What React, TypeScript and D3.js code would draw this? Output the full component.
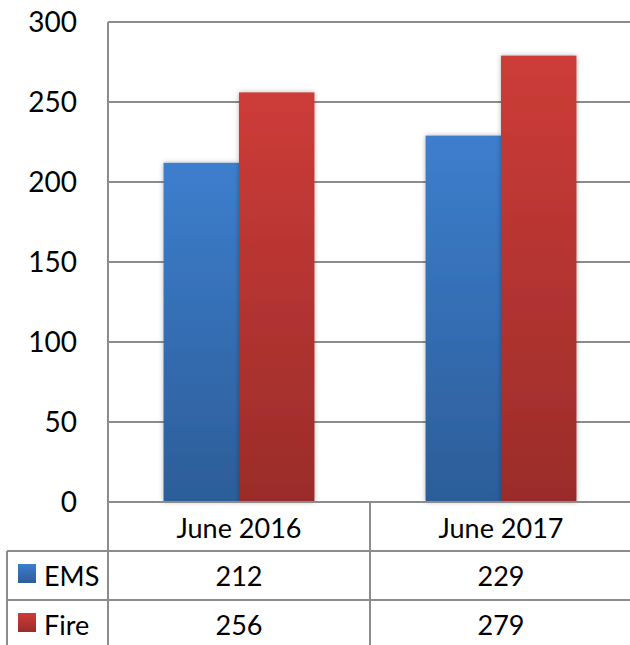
import { useEffect, useRef } from "react";
import * as d3 from "d3";

const categories = ["June 2016", "June 2017"];
const seriesNames = ["EMS", "Fire"];
const emsValues = [212, 229];
const fireValues = [256, 279];
const yTicks = [0, 50, 100, 150, 200, 250, 300];

const W = 630;
const H = 645;
const FONT = "Lato, 'Open Sans', sans-serif";
const GRID = "#8c8c8c";

export default function App() {
  const ref = useRef<SVGSVGElement>(null);

  useEffect(() => {
    const svg = d3.select(ref.current);
    svg.selectAll("*").remove();

    const left = 108, right = 632, top = 22, bottom = 502;
    const rowH = 49;
    const series = [emsValues, fireValues];
    const colors = [
      ["#3d7ecd", "#2c5d98"],
      ["#cd3c38", "#9a2c2a"],
    ];

    const defs = svg.append("defs");
    colors.forEach((c, i) => {
      const g = defs.append("linearGradient").attr("id", "grad" + i)
        .attr("x1", 0).attr("y1", 0).attr("x2", 0).attr("y2", 1);
      g.append("stop").attr("offset", "0%").attr("stop-color", c[0]);
      g.append("stop").attr("offset", "100%").attr("stop-color", c[1]);
    });
    const f = defs.append("filter").attr("id", "shadow")
      .attr("x", "-20%").attr("y", "-20%").attr("width", "140%").attr("height", "140%");
    f.append("feDropShadow").attr("dx", 0).attr("dy", 0)
      .attr("stdDeviation", 2.5).attr("flood-color", "#000").attr("flood-opacity", 0.3);

    const y = d3.scaleLinear().domain([0, 300]).range([bottom, top]);
    const x0 = d3.scaleBand().domain(categories).range([left, right])
      .paddingInner(0.424).paddingOuter(0.212);
    const x1 = d3.scaleBand().domain(seriesNames).range([0, x0.bandwidth()]);
    const step = x0.step();

    // gridlines
    svg.append("g").selectAll("line").data(yTicks.filter(t => t > 0)).join("line")
      .attr("x1", left).attr("x2", W)
      .attr("y1", d => y(d)).attr("y2", d => y(d))
      .attr("stroke", GRID).attr("stroke-width", 2);

    // y labels
    svg.append("g").selectAll("text").data(yTicks).join("text")
      .attr("x", 77).attr("y", d => y(d)).attr("dy", "0.36em")
      .attr("text-anchor", "end")
      .style("font-family", FONT).style("font-size", "28px").attr("fill", "#000")
      .text(d => d);

    // bars
    categories.forEach((cat, ci) => {
      const g = svg.append("g").attr("transform", `translate(${x0(cat)},0)`);
      seriesNames.forEach((s, si) => {
        g.append("rect")
          .attr("x", x1(s)!).attr("width", x1.bandwidth())
          .attr("y", y(series[si][ci])).attr("height", y(0) - y(series[si][ci]))
          .attr("fill", `url(#grad${si})`)
          .attr("filter", "url(#shadow)");
      });
    });

    // table lines
    const lines = svg.append("g").attr("stroke", GRID).attr("stroke-width", 2);
    lines.append("line").attr("x1", left).attr("x2", W).attr("y1", bottom).attr("y2", bottom);
    [1, 2].forEach(r => {
      lines.append("line").attr("x1", 7).attr("x2", W)
        .attr("y1", bottom + r * rowH).attr("y2", bottom + r * rowH);
    });
    lines.append("line").attr("x1", left).attr("x2", left).attr("y1", top).attr("y2", H);
    lines.append("line").attr("x1", left + step).attr("x2", left + step).attr("y1", bottom).attr("y2", H);
    lines.append("line").attr("x1", 7).attr("x2", 7).attr("y1", bottom + rowH).attr("y2", H);

    const txt = (x: number, yy: number, s: string | number, anchor = "middle") =>
      svg.append("text").attr("x", x).attr("y", yy).attr("text-anchor", anchor)
        .style("font-family", FONT).style("font-size", "27px").attr("fill", "#000").text(s);

    categories.forEach((cat, ci) => {
      const cx = left + step * ci + step / 2;
      txt(cx, bottom + 36, cat);
      series.forEach((vals, si) => txt(cx, bottom + rowH * (si + 1) + 35, vals[ci]));
    });

    seriesNames.forEach((s, si) => {
      const ry = bottom + rowH * (si + 1);
      svg.append("rect").attr("x", 18).attr("y", ry + 13).attr("width", 18).attr("height", 19)
        .attr("fill", `url(#grad${si})`);
      txt(44, ry + 35, s, "start");
    });
  }, []);

  return (
    <svg ref={ref} width={W} height={H}
      style={{ position: "absolute", left: 0, top: 0, background: "#fff" }} />
  );
}
